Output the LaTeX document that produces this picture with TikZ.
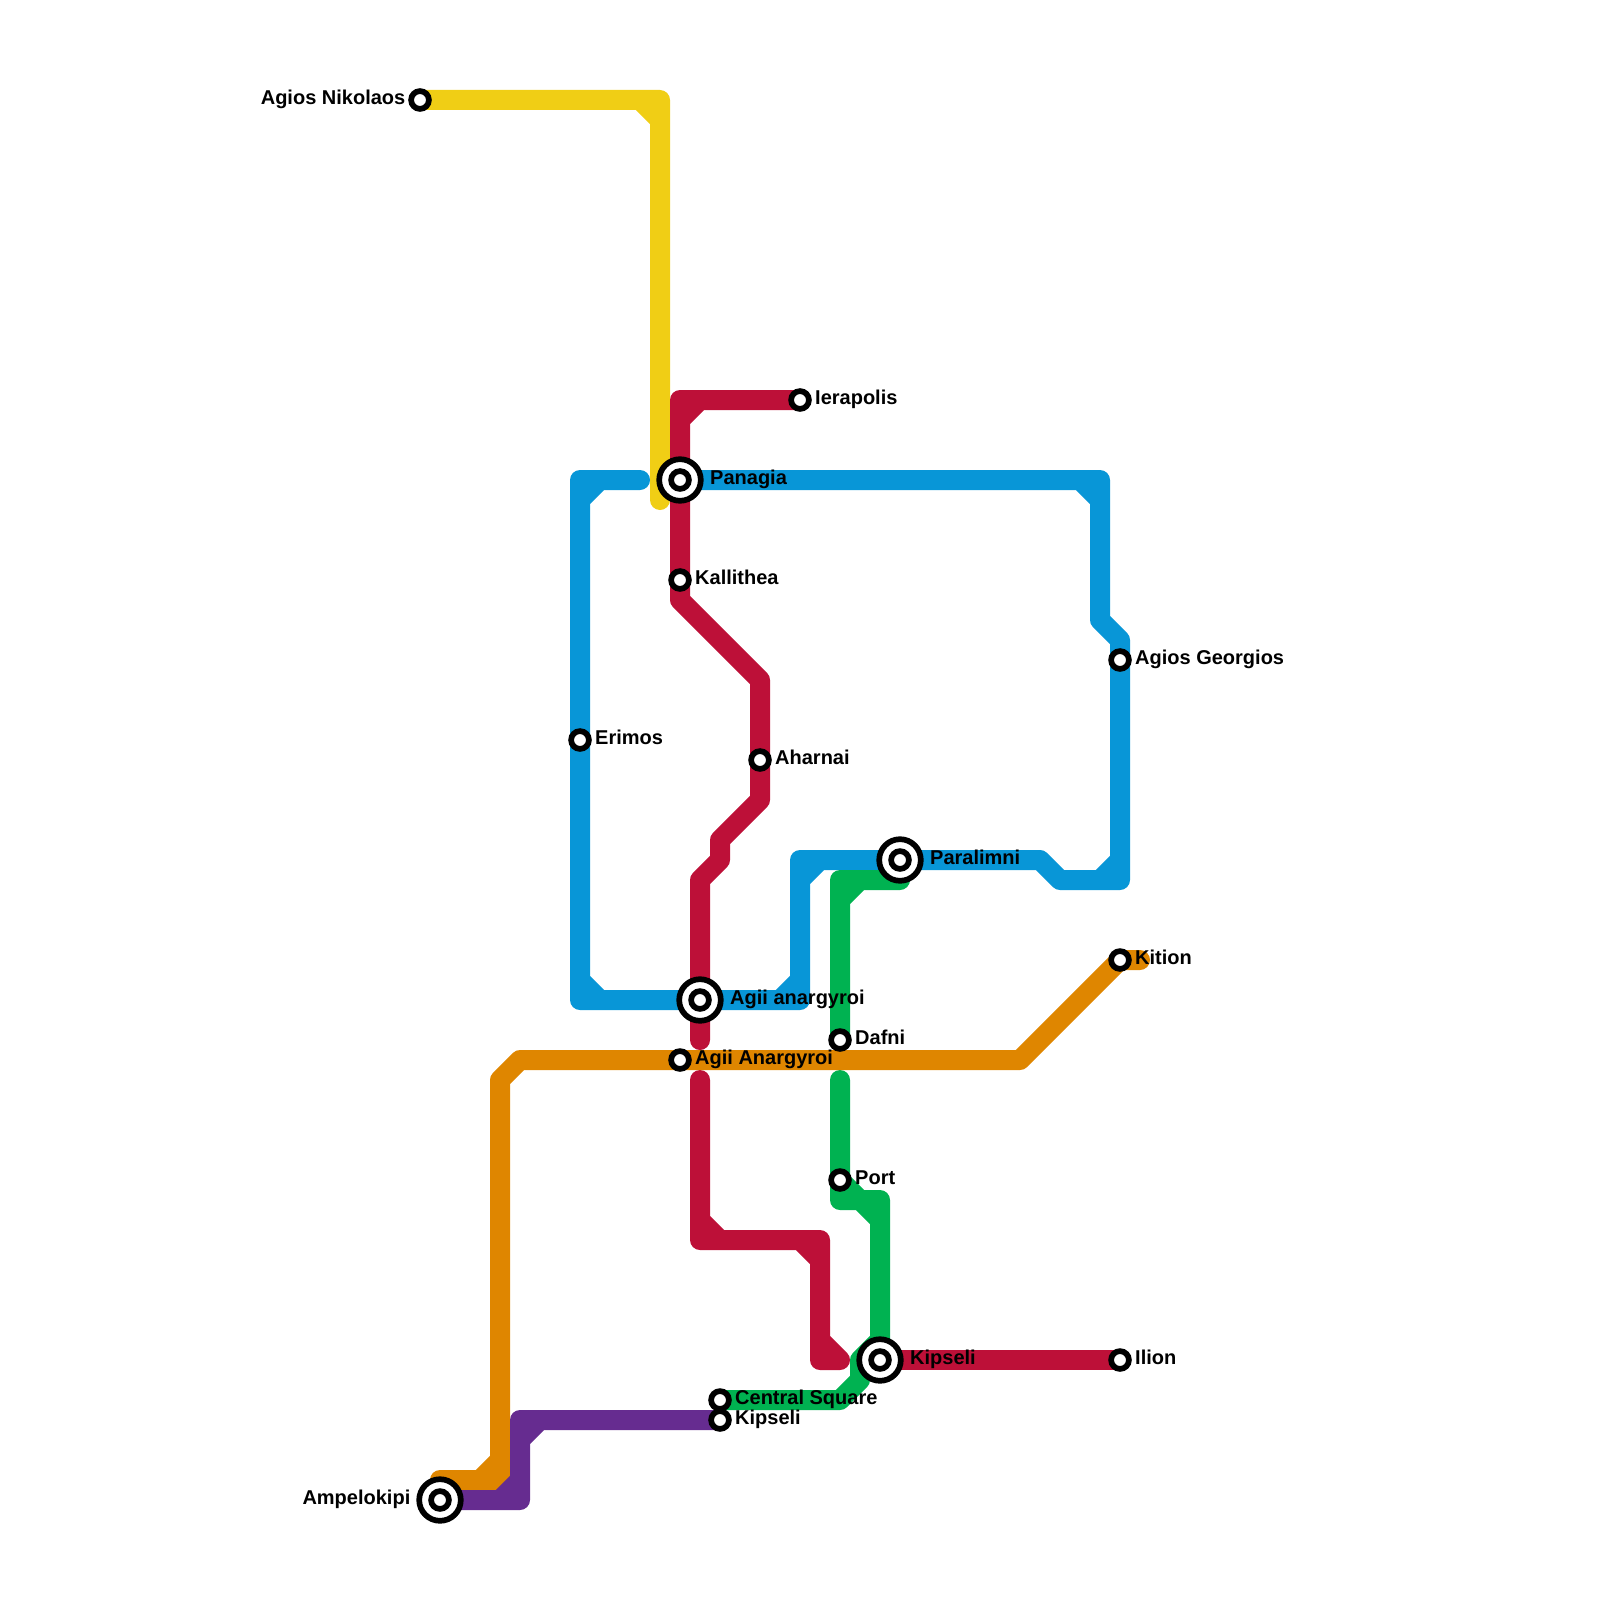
\documentclass[tikz,border=0pt]{standalone}
\usepackage{fontspec}
\setmainfont{Liberation Sans}
\usetikzlibrary{backgrounds}
\definecolor{lineyellow}{HTML}{F0CE15}
\definecolor{linered}{HTML}{BD1038}
\definecolor{lineblue}{HTML}{0896D7}
\definecolor{linegreen}{HTML}{00B251}
\definecolor{lineorange}{HTML}{DF8600}
\definecolor{linepurple}{HTML}{662C90}
\tikzset{
  metro/.style={line width=20pt, line cap=round, line join=round},
  stop/.style={circle, draw=black, fill=white, line width=5.7pt, inner sep=0pt, outer sep=0pt, minimum size=17.8pt},
  bigstop/.style={stop, minimum size=41.6pt},
  lblr/.style={anchor=base west, inner sep=0pt, font=\bfseries\fontsize{20}{24}\selectfont},
  lbll/.style={lblr, anchor=base east}
}
\begin{document}
\begin{tikzpicture}[x=1pt, y=-1pt]
    \useasboundingbox (0,0) rectangle (1600,1600);

    % Plain stations
    \node[stop] (nikolaos) at (420,100) {};
    \node[stop] (ierapolis) at (800,400) {};
    \node[stop] (kallithea) at (680,580) {};
    \node[stop] (georgios) at (1120,660) {};
    \node[stop] (erimos) at (580,740) {};
    \node[stop] (aharnai) at (760,760) {};
    \node[stop] (kition) at (1120,960) {};
    \node[stop] (dafni) at (840,1040) {};
    \node[stop] (anargyroi) at (680,1060) {};
    \node[stop] (port) at (840,1180) {};
    \node[stop] (ilion) at (1120,1360) {};
    \node[stop] (central) at (720,1400) {};
    \node[stop] (kipselismall) at (720,1420) {};

    % Interchanges
    \node[bigstop] (panagia) at (680,480) {};
    \node[stop] (panagiain) at (panagia.center) {};
    \node[bigstop] (paralimni) at (900,860) {};
    \node[stop] (paralimniin) at (paralimni.center) {};
    \node[bigstop] (anarg) at (700,1000) {};
    \node[stop] (anargin) at (anarg.center) {};
    \node[bigstop] (kipseli) at (880,1360) {};
    \node[stop] (kipseliin) at (kipseli.center) {};
    \node[bigstop] (ampelokipi) at (440,1500) {};
    \node[stop] (ampelokipiin) at (ampelokipi.center) {};

    \begin{pgfonlayer}{background}
    % Yellow line
    \draw[metro, lineyellow] (nikolaos.center) -- (660,100) -- (660,500)
        (640,100) -- (660,120);

    % Red line
    \draw[metro, linered] (ierapolis.center) -- (680,400) -- (panagia.center) -- (kallithea.center)
        -- (680,600) -- (760,680) -- (aharnai.center) -- (760,800) -- (720,840) -- (720,860)
        -- (700,880) -- (anarg.center) -- (700,1040)
        (700,400) -- (680,420);
    \draw[metro, linered] (700,1080) -- (700,1240) -- (820,1240) -- (820,1360) -- (840,1360)
        (700,1220) -- (720,1240)
        (800,1240) -- (820,1260)
        (820,1340) -- (840,1360);
    \draw[metro, linered] (kipseli.center) -- (ilion.center);

    % Blue line
    \draw[metro, lineblue] (panagia.center) -- (1100,480) -- (1100,620) -- (1120,640)
        -- (georgios.center) -- (1120,880) -- (1060,880) -- (1040,860) -- (paralimni.center)
        -- (800,860) -- (800,1000) -- (anarg.center) -- (580,1000) -- (erimos.center)
        -- (580,480) -- (640,480)
        (1080,480) -- (1100,500)
        (1120,860) -- (1100,880)
        (820,860) -- (800,880)
        (800,980) -- (780,1000)
        (580,980) -- (600,1000)
        (580,500) -- (600,480);

    % Green line
    \draw[metro, linegreen] (paralimni.center) -- (900,880) -- (840,880) -- (dafni.center)
        (860,880) -- (840,900);
    \draw[metro, linegreen] (840,1080) -- (port.center) -- (840,1200) -- (880,1200) -- (880,1340)
        -- (860,1360) -- (860,1380) -- (840,1400) -- (central.center)
        (840,1180) -- (860,1200)
        (860,1200) -- (880,1220);

    % Orange line
    \draw[metro, lineorange] (ampelokipi.center) -- (440,1480) -- (500,1480) -- (500,1080)
        -- (520,1060) -- (anargyroi.center) -- (1020,1060) -- (kition.center) -- (1140,960)
        (480,1480) -- (500,1460);

    % Purple line
    \draw[metro, linepurple] (ampelokipi.center) -- (520,1500) -- (520,1420) -- (kipselismall.center)
        (500,1500) -- (520,1480)
        (540,1420) -- (520,1440);
    \end{pgfonlayer}

    % Labels
    \node[lbll] (nikolaoslbl) at (405.5,104.6) {Agios Nikolaos};
    \node[lblr] (ierapolislbl) at (815,404.6) {Ierapolis};
    \node[lblr] (panagialbl) at (710,484.6) {Panagia};
    \node[lblr] (kallithealbl) at (695,584.6) {Kallithea};
    \node[lblr] (georgioslbl) at (1135,664.6) {Agios Georgios};
    \node[lblr] (erimoslbl) at (595,744.6) {Erimos};
    \node[lblr] (aharnailbl) at (775,764.6) {Aharnai};
    \node[lblr] (paralimnilbl) at (930,864.6) {Paralimni};
    \node[lblr] (kitionlbl) at (1135,964.6) {Kition};
    \node[lblr] (anarglbl) at (730,1004.6) {Agii anargyroi};
    \node[lblr] (dafnilbl) at (855,1044.6) {Dafni};
    \node[lblr] (anargyroilbl) at (695,1064.6) {Agii Anargyroi};
    \node[lblr] (portlbl) at (855,1184.6) {Port};
    \node[lblr] (kipselilbl) at (910,1364.6) {Kipseli};
    \node[lblr] (ilionlbl) at (1135,1364.6) {Ilion};
    \node[lblr] (centrallbl) at (735,1404.6) {Central Square};
    \node[lblr] (kipselismalllbl) at (735,1424.6) {Kipseli};
    \node[lbll] (ampelokipilbl) at (410.5,1504.6) {Ampelokipi};
\end{tikzpicture}
\end{document}
